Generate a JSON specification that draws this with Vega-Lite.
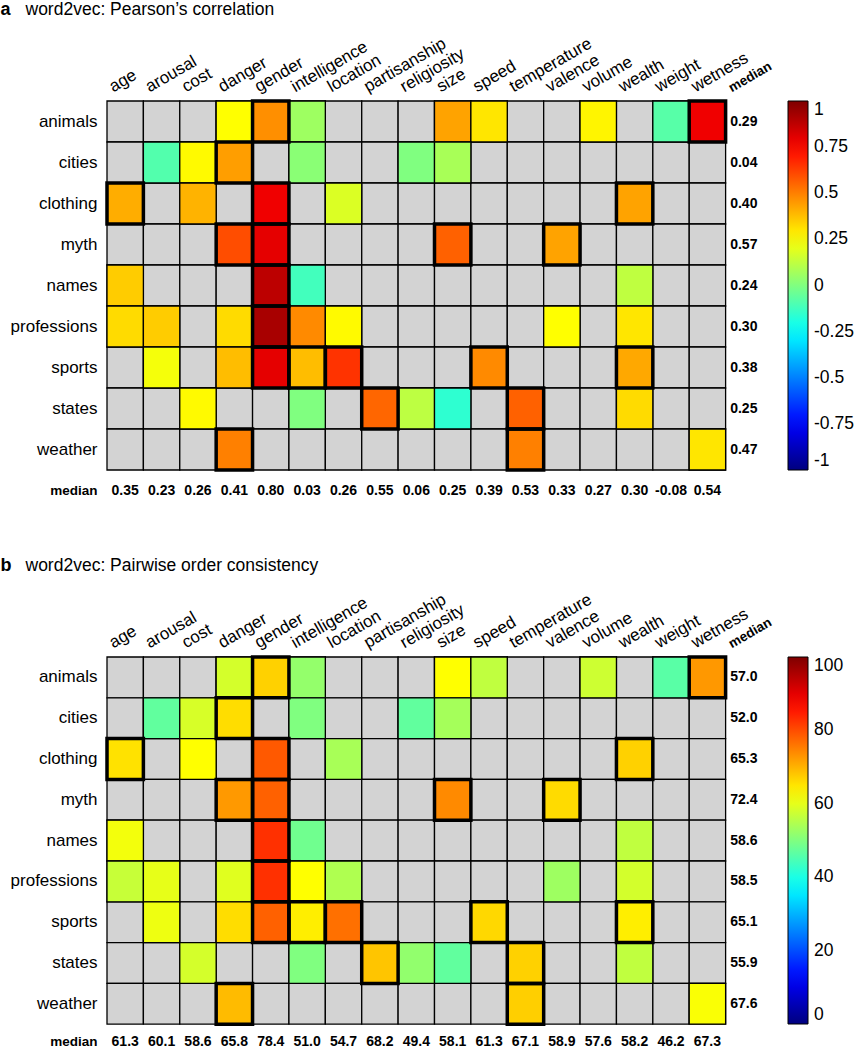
{
  "$schema": "https://vega.github.io/schema/vega-lite/v6.json",
  "padding": {"left": 0, "top": 0, "right": 0, "bottom": 0},
  "spacing": 45,
  "config": {
    "view": {"stroke": null},
    "font": "Liberation Sans",
    "locale": {"number": {"decimal": ".", "thousands": ",", "grouping": [3], "currency": ["$", ""], "minus": "-"}}
  },
  "resolve": {"scale": {"color": "independent"}, "legend": {"color": "independent"}},
  "datasets": {
    "cells": [
      {"r":"animals","c":"age"},{"r":"animals","c":"arousal"},{"r":"animals","c":"cost"},
      {"r":"animals","c":"danger","p":0.25,"o":58.3},
      {"r":"animals","c":"gender","p":0.47,"o":67,"t":true},
      {"r":"animals","c":"intelligence","p":0.06,"o":52},
      {"r":"animals","c":"location"},{"r":"animals","c":"partisanship"},{"r":"animals","c":"religiosity"},
      {"r":"animals","c":"size","p":0.43,"o":62.5},
      {"r":"animals","c":"speed","p":0.30,"o":56.3},
      {"r":"animals","c":"temperature"},{"r":"animals","c":"valence"},
      {"r":"animals","c":"volume","p":0.27,"o":57.6},
      {"r":"animals","c":"wealth"},
      {"r":"animals","c":"weight","p":-0.08,"o":46.2},
      {"r":"animals","c":"wetness","p":0.78,"o":72.6,"t":true},

      {"r":"cities","c":"age"},
      {"r":"cities","c":"arousal","p":-0.09,"o":47},
      {"r":"cities","c":"cost","p":0.26,"o":58.6},
      {"r":"cities","c":"danger","p":0.44,"o":65.8,"t":true},
      {"r":"cities","c":"gender"},
      {"r":"cities","c":"intelligence","p":0.02,"o":50},
      {"r":"cities","c":"location"},{"r":"cities","c":"partisanship"},
      {"r":"cities","c":"religiosity","p":0.0,"o":47},
      {"r":"cities","c":"size","p":0.08,"o":53.7},
      {"r":"cities","c":"speed"},{"r":"cities","c":"temperature"},{"r":"cities","c":"valence"},{"r":"cities","c":"volume"},{"r":"cities","c":"wealth"},{"r":"cities","c":"weight"},{"r":"cities","c":"wetness"},

      {"r":"clothing","c":"age","p":0.41,"o":65.3,"t":true},
      {"r":"clothing","c":"arousal"},
      {"r":"clothing","c":"cost","p":0.40,"o":62.5},
      {"r":"clothing","c":"danger"},
      {"r":"clothing","c":"gender","p":0.78,"o":78.8,"t":true},
      {"r":"clothing","c":"intelligence"},
      {"r":"clothing","c":"location","p":0.18,"o":54},
      {"r":"clothing","c":"partisanship"},{"r":"clothing","c":"religiosity"},{"r":"clothing","c":"size"},{"r":"clothing","c":"speed"},{"r":"clothing","c":"temperature"},{"r":"clothing","c":"valence"},{"r":"clothing","c":"volume"},
      {"r":"clothing","c":"wealth","p":0.43,"o":67,"t":true},
      {"r":"clothing","c":"weight"},{"r":"clothing","c":"wetness"},

      {"r":"myth","c":"age"},{"r":"myth","c":"arousal"},{"r":"myth","c":"cost"},
      {"r":"myth","c":"danger","p":0.60,"o":72.5,"t":true},
      {"r":"myth","c":"gender","p":0.80,"o":78,"t":true},
      {"r":"myth","c":"intelligence"},{"r":"myth","c":"location"},{"r":"myth","c":"partisanship"},{"r":"myth","c":"religiosity"},
      {"r":"myth","c":"size","p":0.56,"o":74,"t":true},
      {"r":"myth","c":"speed"},{"r":"myth","c":"temperature"},
      {"r":"myth","c":"valence","p":0.43,"o":66,"t":true},
      {"r":"myth","c":"volume"},{"r":"myth","c":"wealth"},{"r":"myth","c":"weight"},{"r":"myth","c":"wetness"},

      {"r":"names","c":"age","p":0.35,"o":61.3},
      {"r":"names","c":"arousal"},{"r":"names","c":"cost"},{"r":"names","c":"danger"},
      {"r":"names","c":"gender","p":0.88,"o":82.8,"t":true},
      {"r":"names","c":"intelligence","p":-0.12,"o":48.5},
      {"r":"names","c":"location"},{"r":"names","c":"partisanship"},{"r":"names","c":"religiosity"},{"r":"names","c":"size"},{"r":"names","c":"speed"},{"r":"names","c":"temperature"},{"r":"names","c":"valence"},{"r":"names","c":"volume"},
      {"r":"names","c":"wealth","p":0.125,"o":56.3},
      {"r":"names","c":"weight"},{"r":"names","c":"wetness"},

      {"r":"professions","c":"age","p":0.32,"o":57},
      {"r":"professions","c":"arousal","p":0.35,"o":60.1},
      {"r":"professions","c":"cost"},
      {"r":"professions","c":"danger","p":0.32,"o":59.5},
      {"r":"professions","c":"gender","p":0.92,"o":82.8,"t":true},
      {"r":"professions","c":"intelligence","p":0.48,"o":62.5},
      {"r":"professions","c":"location","p":0.26,"o":54.7},
      {"r":"professions","c":"partisanship"},{"r":"professions","c":"religiosity"},{"r":"professions","c":"size"},{"r":"professions","c":"speed"},{"r":"professions","c":"temperature"},
      {"r":"professions","c":"valence","p":0.25,"o":53},
      {"r":"professions","c":"volume"},
      {"r":"professions","c":"wealth","p":0.30,"o":58.2},
      {"r":"professions","c":"weight"},{"r":"professions","c":"wetness"},

      {"r":"sports","c":"age"},
      {"r":"sports","c":"arousal","p":0.23,"o":60.8},
      {"r":"sports","c":"cost"},
      {"r":"sports","c":"danger","p":0.38,"o":65.8},
      {"r":"sports","c":"gender","p":0.80,"o":78,"t":true},
      {"r":"sports","c":"intelligence","p":0.38,"o":64.2,"t":true},
      {"r":"sports","c":"location","p":0.65,"o":76.5,"t":true},
      {"r":"sports","c":"partisanship"},{"r":"sports","c":"religiosity"},{"r":"sports","c":"size"},
      {"r":"sports","c":"speed","p":0.48,"o":66.3,"t":true},
      {"r":"sports","c":"temperature"},{"r":"sports","c":"valence"},{"r":"sports","c":"volume"},
      {"r":"sports","c":"wealth","p":0.42,"o":64.2,"t":true},
      {"r":"sports","c":"weight"},{"r":"sports","c":"wetness"},

      {"r":"states","c":"age"},{"r":"states","c":"arousal"},
      {"r":"states","c":"cost","p":0.26,"o":58.3},
      {"r":"states","c":"danger"},{"r":"states","c":"gender"},
      {"r":"states","c":"intelligence","p":0.0,"o":50},
      {"r":"states","c":"location"},
      {"r":"states","c":"partisanship","p":0.55,"o":68.2,"t":true},
      {"r":"states","c":"religiosity","p":0.12,"o":51.8},
      {"r":"states","c":"size","p":-0.16,"o":47},
      {"r":"states","c":"speed"},
      {"r":"states","c":"temperature","p":0.56,"o":67,"t":true},
      {"r":"states","c":"valence"},{"r":"states","c":"volume"},
      {"r":"states","c":"wealth","p":0.32,"o":56.3},
      {"r":"states","c":"weight"},{"r":"states","c":"wetness"},

      {"r":"weather","c":"age"},{"r":"weather","c":"arousal"},{"r":"weather","c":"cost"},
      {"r":"weather","c":"danger","p":0.50,"o":69.2,"t":true},
      {"r":"weather","c":"gender"},{"r":"weather","c":"intelligence"},{"r":"weather","c":"location"},{"r":"weather","c":"partisanship"},{"r":"weather","c":"religiosity"},{"r":"weather","c":"size"},{"r":"weather","c":"speed"},
      {"r":"weather","c":"temperature","p":0.50,"o":67.2,"t":true},
      {"r":"weather","c":"valence"},{"r":"weather","c":"volume"},{"r":"weather","c":"wealth"},{"r":"weather","c":"weight"},
      {"r":"weather","c":"wetness","p":0.30,"o":62}
    ],
    "rowmed": [
      {"r":"animals","c":"median","p":0.29,"o":57.0},
      {"r":"cities","c":"median","p":0.04,"o":52.0},
      {"r":"clothing","c":"median","p":0.40,"o":65.3},
      {"r":"myth","c":"median","p":0.57,"o":72.4},
      {"r":"names","c":"median","p":0.24,"o":58.6},
      {"r":"professions","c":"median","p":0.30,"o":58.5},
      {"r":"sports","c":"median","p":0.38,"o":65.1},
      {"r":"states","c":"median","p":0.25,"o":55.9},
      {"r":"weather","c":"median","p":0.47,"o":67.6}
    ],
    "colmed": [
      {"r":"median","c":"age","p":0.35,"o":61.3},
      {"r":"median","c":"arousal","p":0.23,"o":60.1},
      {"r":"median","c":"cost","p":0.26,"o":58.6},
      {"r":"median","c":"danger","p":0.41,"o":65.8},
      {"r":"median","c":"gender","p":0.80,"o":78.4},
      {"r":"median","c":"intelligence","p":0.03,"o":51.0},
      {"r":"median","c":"location","p":0.26,"o":54.7},
      {"r":"median","c":"partisanship","p":0.55,"o":68.2},
      {"r":"median","c":"religiosity","p":0.06,"o":49.4},
      {"r":"median","c":"size","p":0.25,"o":58.1},
      {"r":"median","c":"speed","p":0.39,"o":61.3},
      {"r":"median","c":"temperature","p":0.53,"o":67.1},
      {"r":"median","c":"valence","p":0.33,"o":58.9},
      {"r":"median","c":"volume","p":0.27,"o":57.6},
      {"r":"median","c":"wealth","p":0.30,"o":58.2},
      {"r":"median","c":"weight","p":-0.08,"o":46.2},
      {"r":"median","c":"wetness","p":0.54,"o":67.3}
    ]
  },
  "vconcat": [
    {
      "width": 655,
      "height": 410,
      "encoding": {
        "x": {"field": "c", "type": "nominal",
          "scale": {"domain": ["age","arousal","cost","danger","gender","intelligence","location","partisanship","religiosity","size","speed","temperature","valence","volume","wealth","weight","wetness","median"], "paddingInner": 0, "paddingOuter": 0},
          "axis": {"orient": "top", "title": "word2vec: Pearson’s correlation", "titleX": -82, "titleY": -87, "titleAngle": 0, "titleAlign": "left", "titleBaseline": "alphabetic", "titleFontSize": 17.5, "titleFontWeight": "normal", "titleFont": "Liberation Sans", "titleColor": "black",
            "ticks": false, "tickSize": 0, "domain": false, "labelAngle": -30, "labelAlign": "left", "labelBaseline": "alphabetic", "labelPadding": 9, "labelOffset": -12, "labelFont": "Liberation Sans", "labelColor": "black", "labelLimit": 0, "labelOverlap": false,
            "labelFontSize": {"condition": {"test": "datum.value === 'median'", "value": 13.5}, "value": 17},
            "labelFontWeight": {"condition": {"test": "datum.value === 'median'", "value": "bold"}, "value": "normal"}}},
        "y": {"field": "r", "type": "nominal",
          "scale": {"domain": ["animals","cities","clothing","myth","names","professions","sports","states","weather","median"], "paddingInner": 0, "paddingOuter": 0},
          "axis": {"title": "a", "titleAngle": 0, "titleX": -107, "titleY": -87, "titleAlign": "left", "titleBaseline": "alphabetic", "titleFontSize": 18, "titleFontWeight": "bold", "titleFont": "Liberation Sans", "titleColor": "black",
            "ticks": false, "tickSize": 0, "domain": false, "labelPadding": 10, "labelFont": "Liberation Sans", "labelColor": "black", "labelLimit": 0,
            "labelFontSize": {"condition": {"test": "datum.value === 'median'", "value": 13.5}, "value": 17},
            "labelFontWeight": {"condition": {"test": "datum.value === 'median'", "value": "bold"}, "value": "normal"}}}
      },
      "layer": [
        {"data": {"name": "cells"}, "mark": {"type": "rect", "fill": "#d3d3d3", "stroke": "black", "strokeWidth": 1.3}},
        {"data": {"name": "cells"}, "transform": [{"filter": "isValid(datum.p)"}],
         "mark": {"type": "rect", "stroke": "black", "strokeWidth": 1.3},
         "encoding": {"color": {"field": "p", "type": "quantitative",
           "scale": {"domain": [-1, -0.75, -0.25, 0.25, 0.75, 1], "range": ["#00007f", "#0000ff", "#00ffff", "#ffff00", "#ff0000", "#7f0000"], "interpolate": "rgb"},
           "legend": {"title": null, "values": [1, 0.75, 0.5, 0.25, 0, -0.25, -0.5, -0.75, -1], "format": ".2~f", "direction": "vertical", "orient": "right", "offset": 26, "gradientLength": 369, "gradientThickness": 20, "gradientStrokeColor": "black", "gradientStrokeWidth": 1, "labelFontSize": 17.5, "labelFont": "Liberation Sans", "labelColor": "black", "labelOffset": 6, "labelBaseline": "middle"}}}},
        {"data": {"name": "cells"}, "transform": [{"filter": "datum.t"}],
         "mark": {"type": "rect", "filled": false, "stroke": "black", "strokeWidth": 3.5}},
        {"data": {"name": "rowmed"}, "mark": {"type": "text", "font": "Liberation Sans", "fontWeight": "bold", "fontSize": 14, "color": "black"},
         "encoding": {"text": {"field": "p", "type": "quantitative", "format": ".2f"}}},
        {"data": {"name": "colmed"}, "mark": {"type": "text", "font": "Liberation Sans", "fontWeight": "bold", "fontSize": 14, "color": "black"},
         "encoding": {"text": {"field": "p", "type": "quantitative", "format": ".2f"}}}
      ]
    },
    {
      "width": 655,
      "height": 408,
      "encoding": {
        "x": {"field": "c", "type": "nominal",
          "scale": {"domain": ["age","arousal","cost","danger","gender","intelligence","location","partisanship","religiosity","size","speed","temperature","valence","volume","wealth","weight","wetness","median"], "paddingInner": 0, "paddingOuter": 0},
          "axis": {"orient": "top", "title": "word2vec: Pairwise order consistency", "titleX": -82, "titleY": -87, "titleAngle": 0, "titleAlign": "left", "titleBaseline": "alphabetic", "titleFontSize": 17.5, "titleFontWeight": "normal", "titleFont": "Liberation Sans", "titleColor": "black",
            "ticks": false, "tickSize": 0, "domain": false, "labelAngle": -30, "labelAlign": "left", "labelBaseline": "alphabetic", "labelPadding": 9, "labelOffset": -12, "labelFont": "Liberation Sans", "labelColor": "black", "labelLimit": 0, "labelOverlap": false,
            "labelFontSize": {"condition": {"test": "datum.value === 'median'", "value": 13.5}, "value": 17},
            "labelFontWeight": {"condition": {"test": "datum.value === 'median'", "value": "bold"}, "value": "normal"}}},
        "y": {"field": "r", "type": "nominal",
          "scale": {"domain": ["animals","cities","clothing","myth","names","professions","sports","states","weather","median"], "paddingInner": 0, "paddingOuter": 0},
          "axis": {"title": "b", "titleAngle": 0, "titleX": -107, "titleY": -87, "titleAlign": "left", "titleBaseline": "alphabetic", "titleFontSize": 18, "titleFontWeight": "bold", "titleFont": "Liberation Sans", "titleColor": "black",
            "ticks": false, "tickSize": 0, "domain": false, "labelPadding": 10, "labelFont": "Liberation Sans", "labelColor": "black", "labelLimit": 0,
            "labelOffset": {"condition": {"test": "datum.value === 'median'", "value": -3}, "value": 0},
            "labelFontSize": {"condition": {"test": "datum.value === 'median'", "value": 13.5}, "value": 17},
            "labelFontWeight": {"condition": {"test": "datum.value === 'median'", "value": "bold"}, "value": "normal"}}}
      },
      "layer": [
        {"data": {"name": "cells"}, "mark": {"type": "rect", "fill": "#d3d3d3", "stroke": "black", "strokeWidth": 1.3}},
        {"data": {"name": "cells"}, "transform": [{"filter": "isValid(datum.o)"}],
         "mark": {"type": "rect", "stroke": "black", "strokeWidth": 1.3},
         "encoding": {"color": {"field": "o", "type": "quantitative",
           "scale": {"domain": [0, 12.5, 37.5, 62.5, 87.5, 100], "range": ["#00007f", "#0000ff", "#00ffff", "#ffff00", "#ff0000", "#7f0000"], "interpolate": "rgb"},
           "legend": {"title": null, "values": [100, 80, 60, 40, 20, 0], "format": ".2~f", "direction": "vertical", "orient": "right", "offset": 26, "gradientLength": 367, "gradientThickness": 20, "gradientStrokeColor": "black", "gradientStrokeWidth": 1, "labelFontSize": 17.5, "labelFont": "Liberation Sans", "labelColor": "black", "labelOffset": 6, "labelBaseline": "middle"}}}},
        {"data": {"name": "cells"}, "transform": [{"filter": "datum.t"}],
         "mark": {"type": "rect", "filled": false, "stroke": "black", "strokeWidth": 3.5}},
        {"data": {"name": "rowmed"}, "mark": {"type": "text", "font": "Liberation Sans", "fontWeight": "bold", "fontSize": 14, "color": "black"},
         "encoding": {"text": {"field": "o", "type": "quantitative", "format": ".1f"}}},
        {"data": {"name": "colmed"}, "mark": {"type": "text", "font": "Liberation Sans", "fontWeight": "bold", "fontSize": 14, "color": "black", "dy": -3},
         "encoding": {"text": {"field": "o", "type": "quantitative", "format": ".1f"}}}
      ]
    }
  ]
}
